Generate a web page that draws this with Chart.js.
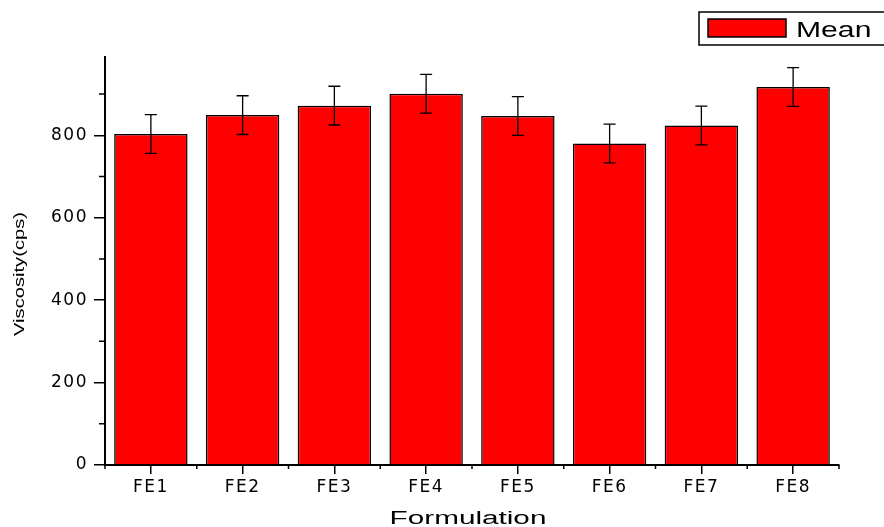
<!DOCTYPE html>
<html>
<head>
<meta charset="utf-8">
<script src="https://cdn.jsdelivr.net/npm/chart.js@4/dist/chart.umd.min.js"></script>
<style>
  body { margin: 0; background: #fff; }
  canvas { display: block; }
</style>
</head>
<body>
<canvas id="chart" width="884" height="527"></canvas>
<script>
'use strict';
var categories = ['FE1', 'FE2', 'FE3', 'FE4', 'FE5', 'FE6', 'FE7', 'FE8'];
var meanValues = [803, 849, 872, 901, 847, 780, 824, 917];
var errorValues = [47, 47, 47, 47, 47, 47, 47, 47];
var yTicks = [0, 200, 400, 600, 800];
var yMinorTicks = [100, 300, 500, 700, 900];
var seriesName = 'Mean';
var xTitle = 'Formulation';
var yTitle = 'Viscosity(cps)';

// text in the reference is drawn wide, so stretch along the text direction
function stretchedText(ctx, text, x, y, font, scaleX, angle, align) {
  ctx.save();
  ctx.translate(x, y);
  if (angle) ctx.rotate(angle);
  ctx.scale(scaleX, 1);
  ctx.font = font;
  ctx.fillStyle = '#000';
  ctx.letterSpacing = '0px';
  ctx.textAlign = align || 'left';
  ctx.textBaseline = 'alphabetic';
  ctx.fillText(text, 0, 0);
  ctx.restore();
}

var wideTicks = {
  id: 'wideTicks',
  beforeDraw: function (chart) {
    chart.ctx.letterSpacing = '1.5px';
  },
  afterDraw: function (chart) {
    chart.ctx.letterSpacing = '0px';
  }
};

var errorBars = {
  id: 'errorBars',
  afterDatasetsDraw: function (chart) {
    var ctx = chart.ctx;
    var ys = chart.scales.y;
    var meta = chart.getDatasetMeta(0);
    ctx.save();
    ctx.strokeStyle = '#000';
    ctx.lineWidth = 1.3;
    for (var i = 0; i < meanValues.length; i++) {
      var x = meta.data[i].x;
      var top = ys.getPixelForValue(meanValues[i] + errorValues[i]);
      var bot = ys.getPixelForValue(meanValues[i] - errorValues[i]);
      ctx.beginPath();
      ctx.moveTo(x, top); ctx.lineTo(x, bot);
      ctx.moveTo(x - 6, top); ctx.lineTo(x + 6, top);
      ctx.moveTo(x - 6, bot); ctx.lineTo(x + 6, bot);
      ctx.stroke();
    }
    ctx.restore();
  }
};

var extras = {
  id: 'extras',
  afterDraw: function (chart) {
    var ctx = chart.ctx;
    var xs = chart.scales.x;
    var ys = chart.scales.y;
    var area = chart.chartArea;
    ctx.save();
    ctx.strokeStyle = '#000';
    ctx.lineWidth = 1.5;
    ctx.beginPath();
    // minor ticks on x at category boundaries
    var step = (xs.right - xs.left) / categories.length;
    for (var i = 0; i <= categories.length; i++) {
      var x = xs.left + i * step;
      ctx.moveTo(x, area.bottom); ctx.lineTo(x, area.bottom + 4);
    }
    // minor ticks on y
    yMinorTicks.forEach(function (v) {
      var y = ys.getPixelForValue(v);
      ctx.moveTo(area.left, y); ctx.lineTo(area.left - 6, y);
    });
    ctx.stroke();

    // legend
    ctx.lineWidth = 1.5;
    ctx.strokeRect(699, 12, 200, 33);
    ctx.fillStyle = '#ff0000';
    ctx.fillRect(708, 19, 78, 18);
    ctx.strokeRect(708, 19, 78, 18);
    ctx.restore();

    stretchedText(ctx, seriesName, 796, 37, '22px "Liberation Sans", Arial', 1.37, 0, 'left');
    stretchedText(ctx, xTitle, (area.left + area.right) / 2 - 4, 524, '18px "Liberation Sans", Arial', 1.65, 0, 'center');
    stretchedText(ctx, yTitle, 24, 274, '15.5px "Liberation Sans", Arial', 1.3, -Math.PI / 2, 'center');
  }
};

var tickFont = { family: '"DejaVu Sans", sans-serif', size: 17 };

new Chart(document.getElementById('chart'), {
  type: 'bar',
  data: {
    labels: categories,
    datasets: [{
      label: seriesName,
      data: meanValues,
      backgroundColor: '#ff0000',
      borderColor: '#000',
      borderWidth: 1.5,
      barPercentage: 0.8,
      categoryPercentage: 1.0
    }]
  },
  options: {
    responsive: false,
    animation: false,
    layout: { padding: { top: 57, right: 45, bottom: 0, left: 0 } },
    plugins: { legend: { display: false }, tooltip: { enabled: false } },
    scales: {
      x: {
        grid: { drawOnChartArea: false, offset: false, tickLength: 9, color: '#000', lineWidth: 1.5 },
        border: { color: '#000', width: 2 },
        ticks: { font: tickFont, color: '#000', padding: 3, maxRotation: 0, autoSkip: false },
        afterFit: function (s) { s.height = 62; }
      },
      y: {
        min: 0,
        max: 990,
        afterBuildTicks: function (s) {
          s.ticks = yTicks.map(function (v) { return { value: v }; });
        },
        grid: { drawOnChartArea: false, tickLength: 11, color: '#000', lineWidth: 1.5 },
        border: { color: '#000', width: 2 },
        ticks: { font: tickFont, color: '#000', padding: 6 },
        afterFit: function (s) { s.width = 105; }
      }
    }
  },
  plugins: [wideTicks, errorBars, extras]
});
</script>
</body>
</html>
